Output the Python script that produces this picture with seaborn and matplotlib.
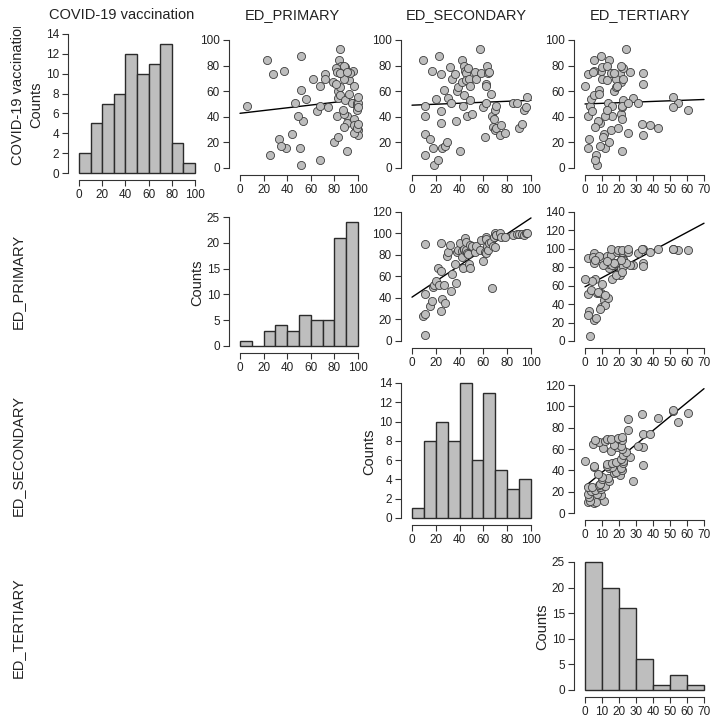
import numpy as np
import matplotlib
matplotlib.use("Agg")
import matplotlib.pyplot as plt
import seaborn as sns

covid = [84.6, 40.5, 10.4, 48.6, 26.4, 22.5, 76, 15.4, 2.6, 54,
         6.3, 87.7, 35.5, 73.4, 44.6, 15.4, 60.8, 17, 20.4, 54.3,
         79, 51, 69.5, 73.4, 36.8, 60, 63.4, 13, 84.3, 67.4,
         48.3, 57.4, 79.6, 75.7, 73.9, 68.7, 40.5, 78.3, 69.8, 64,
         53, 42, 75.2, 69.5, 92.7, 73.9, 47.8, 24.3, 65.5, 64,
         50.4, 79.8, 73.9, 75.2, 58.2, 40.5, 32, 38.6, 45.7, 29.5,
         31.6, 48.3, 26, 33.4, 27.7, 51, 51, 31.6, 34, 45.7,
         47.3, 55.6]
primary = [23, 90.5, 25, 5.6, 44, 33, 37, 50.5, 52, 55.8,
           67.6, 52, 91, 28, 65, 39, 52, 35, 79.5, 83,
           89.4, 46.7, 62, 72, 53.6, 83, 84.7, 91, 83.8, 78.5,
           67.6, 84.7, 86, 96, 84.7, 92.5, 82, 81, 72, 67.6,
           89.4, 88, 82.5, 88, 85, 93.5, 74.8, 83, 81.6, 96.6,
           95, 88, 84.7, 91, 92.5, 49.5, 88, 97, 87, 100,
           98.7, 99, 100, 97, 97, 99, 99.7, 99.4, 99.7, 99,
           100, 100]
secondary = [9.2, 10.6, 10.6, 11.2, 11.2, 15.4, 17, 17.6, 18.2, 20.5,
             21.8, 22.4, 24, 24.6, 24.6, 25.5, 26.6, 27.5, 29.7, 30.3,
             32.2, 33, 34, 36, 36.7, 37.8, 38.7, 40.6, 42.3, 42.3,
             42.9, 43.4, 43.7, 44.3, 45, 45.6, 46.5, 47, 48, 48.5,
             49, 50.5, 52.7, 54, 56.9, 58.3, 59.7, 61, 62, 62,
             62.5, 63, 63.8, 64.4, 66.7, 67.5, 68, 68.6, 69.5, 69.5,
             70.3, 71, 74, 74.5, 78, 85, 88.5, 89.5, 92.7, 94,
             96, 96.6]
tertiary = [5.5, 1.5, 6.5, 3, 11, 2.5, 9.5, 1.5, 7, 3.5,
            6, 9.5, 9, 2, 4, 12, 8, 9, 14, 28,
            9.8, 13.5, 9.8, 20.5, 7.5, 17, 18.5, 22, 14, 21,
            16, 5, 13, 5, 34, 13, 16, 22.5, 18, 0,
            22.5, 21, 26.5, 22.5, 24, 15, 22, 10.5, 34, 19,
            31, 21, 17, 4.5, 8, 12, 6, 21.5, 13, 15,
            19.5, 21.5, 34, 38, 25, 54.5, 25.5, 43, 33.5, 60.5,
            52, 52]

names = ["COVID-19 vaccination", "ED_PRIMARY", "ED_SECONDARY", "ED_TERTIARY"]
data = [covid, primary, secondary, tertiary]
x_max = [100, 100, 100, 70]          # x-axis range per variable
hist_ymax = [14, 25, 14, 25]
hist_ystep = [2, 5, 2, 5]
# y-axis top for scatter panel (row, col)
sc_ymax = {(0, 1): 100, (0, 2): 100, (0, 3): 100,
           (1, 2): 120, (1, 3): 140, (2, 3): 120}

sns.set_theme(style="ticks")
plt.rcParams['font.family'] = ['Liberation Sans', 'DejaVu Sans']

W, H = 719, 717
fig = plt.figure(figsize=(W / 100, H / 100), dpi=100)

# pixel positions of first / last tick of each column and row
col_px = [(79, 195), (240, 358), (412, 531), (585, 704)]
row_px = [(168, 40), (341, 212), (513, 385), (686, 557)]
hist_px = [(173, 34), (346, 217), (518, 383), (690, 562)]

ink = "#333333"


def make_ax(xpx, ypx, xlim, ylim):
    x0, x1 = xpx
    yb, yt = ypx
    sx = (xlim[1] - xlim[0]) / (x1 - x0)
    sy = (ylim[1] - ylim[0]) / (yb - yt)
    pl, pr, pt, pb = 11, 5, 5, 7
    left, right, top, bottom = x0 - pl, x1 + pr, yt - pt, yb + pb
    ax = fig.add_axes([left / W, 1 - bottom / H, (right - left) / W, (bottom - top) / H])
    ax.set_facecolor("none")
    ax.set_xlim(xlim[0] - pl * sx, xlim[1] + pr * sx)
    ax.set_ylim(ylim[0] - pb * sy, ylim[1] + pt * sy)
    for s in ["top", "right"]:
        ax.spines[s].set_visible(False)
    for s in ["left", "bottom"]:
        ax.spines[s].set_color(ink)
        ax.spines[s].set_linewidth(0.8)
    ax.spines["bottom"].set_bounds(xlim[0], xlim[1])
    ax.spines["left"].set_bounds(ylim[0], ylim[1])
    ax.tick_params(length=4, width=0.8, color=ink, labelcolor="#222222",
                   labelsize=8.5, pad=2.5)
    return ax


for i in range(4):
    for j in range(4):
        if j < i:
            continue
        xs = data[j]
        if i == j:
            ax = make_ax(col_px[j], hist_px[i], (0, x_max[j]), (0, hist_ymax[i]))
            sns.histplot(x=xs, bins=np.arange(0, x_max[j] + 1, 10), ax=ax,
                         color="#BEBEBE", edgecolor="#2b2b2b", linewidth=1.0,
                         alpha=1)
            ax.set_xlim(-11 * x_max[j] / (col_px[j][1] - col_px[j][0]),
                        x_max[j] + 5 * x_max[j] / (col_px[j][1] - col_px[j][0]))
            sy = hist_ymax[i] / (hist_px[i][0] - hist_px[i][1])
            ax.set_ylim(-7 * sy, hist_ymax[i] + 5 * sy)
            ax.set_yticks(np.arange(0, hist_ymax[i] + 1, hist_ystep[i]))
            ax.set_xticks(np.arange(0, x_max[j] + 1, 10 if x_max[j] == 70 else 20))
            ax.set_ylabel("Counts", fontsize=10.5, color="#222222", labelpad=2)
            ax.set_xlabel("")
        else:
            ys = data[i]
            ytop = sc_ymax[(i, j)]
            ax = make_ax(col_px[j], row_px[i], (0, x_max[j]), (0, ytop))
            b, a = np.polyfit(xs, ys, 1)
            ax.plot([0, x_max[j]], [a, a + b * x_max[j]], color="black", lw=1.0)
            sns.scatterplot(x=xs, y=ys, ax=ax, s=34, color="#BDBDBD",
                            edgecolor="#3c3c3c", linewidth=0.6, zorder=3)
            ax.set_xticks(np.arange(0, x_max[j] + 1, 10 if x_max[j] == 70 else 20))
            ax.set_yticks(np.arange(0, ytop + 1, 20))
            ax.set_xlabel("")
            ax.set_ylabel("")

# column titles
col_cx = [122, 292, 466, 640]
for j in range(4):
    fig.text(col_cx[j] / W, 1 - 15 / H, names[j], ha="center", va="center",
             fontsize=10.5, color="#222222")

# row labels (first one is clipped like in the original)
row_cy = [92, 281, 455, 628]
for i in range(4):
    top = 27 if i == 0 else row_cy[i] - 85
    lab = fig.add_axes([0, 1 - (row_cy[i] + 85) / H, 40 / W, (row_cy[i] + 85 - top) / H])
    lab.axis("off")
    lab.text(18 / W, 1 - row_cy[i] / H, names[i], transform=fig.transFigure,
             rotation=90, ha="center", va="center", fontsize=10.5,
             color="#222222", clip_on=True)

fig.savefig("out.png", dpi=100)
